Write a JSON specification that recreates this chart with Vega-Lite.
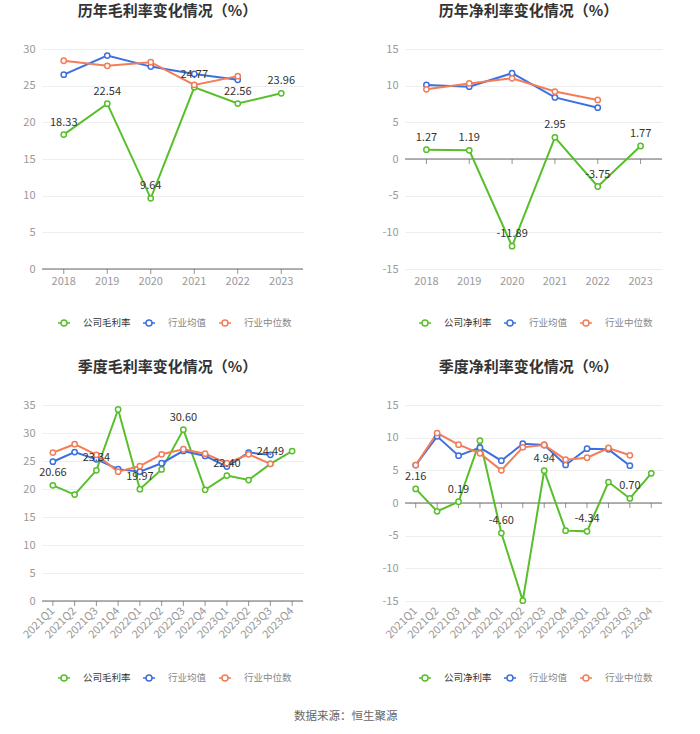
{
  "$schema": "https://vega.github.io/schema/vega-lite/v6.json",
  "background": "white",
  "padding": {"left": 20, "top": 4, "right": 5, "bottom": 5},
  "datasets": {
    "annualGross": [
      {"period": "2018", "series": "公司毛利率", "value": 18.33},
      {"period": "2019", "series": "公司毛利率", "value": 22.54},
      {"period": "2020", "series": "公司毛利率", "value": 9.64},
      {"period": "2021", "series": "公司毛利率", "value": 24.77},
      {"period": "2022", "series": "公司毛利率", "value": 22.56},
      {"period": "2023", "series": "公司毛利率", "value": 23.96},
      {"period": "2018", "series": "行业均值", "value": 26.5},
      {"period": "2019", "series": "行业均值", "value": 29.1},
      {"period": "2020", "series": "行业均值", "value": 27.6},
      {"period": "2021", "series": "行业均值", "value": 26.6},
      {"period": "2022", "series": "行业均值", "value": 25.8},
      {"period": "2018", "series": "行业中位数", "value": 28.4},
      {"period": "2019", "series": "行业中位数", "value": 27.7},
      {"period": "2020", "series": "行业中位数", "value": 28.2},
      {"period": "2021", "series": "行业中位数", "value": 25.1},
      {"period": "2022", "series": "行业中位数", "value": 26.3}
    ],
    "annualNet": [
      {"period": "2018", "series": "公司净利率", "value": 1.27},
      {"period": "2019", "series": "公司净利率", "value": 1.19},
      {"period": "2020", "series": "公司净利率", "value": -11.89},
      {"period": "2021", "series": "公司净利率", "value": 2.95},
      {"period": "2022", "series": "公司净利率", "value": -3.75},
      {"period": "2023", "series": "公司净利率", "value": 1.77},
      {"period": "2018", "series": "行业均值", "value": 10.1},
      {"period": "2019", "series": "行业均值", "value": 9.86},
      {"period": "2020", "series": "行业均值", "value": 11.7},
      {"period": "2021", "series": "行业均值", "value": 8.4},
      {"period": "2022", "series": "行业均值", "value": 7.0},
      {"period": "2018", "series": "行业中位数", "value": 9.5},
      {"period": "2019", "series": "行业中位数", "value": 10.3},
      {"period": "2020", "series": "行业中位数", "value": 11.0},
      {"period": "2021", "series": "行业中位数", "value": 9.2},
      {"period": "2022", "series": "行业中位数", "value": 8.05}
    ],
    "quarterGross": [
      {"period": "2021Q1", "series": "公司毛利率", "value": 20.66},
      {"period": "2021Q2", "series": "公司毛利率", "value": 19.0},
      {"period": "2021Q3", "series": "公司毛利率", "value": 23.34},
      {"period": "2021Q4", "series": "公司毛利率", "value": 34.2},
      {"period": "2022Q1", "series": "公司毛利率", "value": 19.97},
      {"period": "2022Q2", "series": "公司毛利率", "value": 23.5},
      {"period": "2022Q3", "series": "公司毛利率", "value": 30.6},
      {"period": "2022Q4", "series": "公司毛利率", "value": 19.86},
      {"period": "2023Q1", "series": "公司毛利率", "value": 22.4},
      {"period": "2023Q2", "series": "公司毛利率", "value": 21.6},
      {"period": "2023Q3", "series": "公司毛利率", "value": 24.49},
      {"period": "2023Q4", "series": "公司毛利率", "value": 26.77},
      {"period": "2021Q1", "series": "行业均值", "value": 24.87},
      {"period": "2021Q2", "series": "行业均值", "value": 26.6},
      {"period": "2021Q3", "series": "行业均值", "value": 25.3},
      {"period": "2021Q4", "series": "行业均值", "value": 23.55},
      {"period": "2022Q1", "series": "行业均值", "value": 23.1},
      {"period": "2022Q2", "series": "行业均值", "value": 24.6},
      {"period": "2022Q3", "series": "行业均值", "value": 26.8},
      {"period": "2022Q4", "series": "行业均值", "value": 25.9},
      {"period": "2023Q1", "series": "行业均值", "value": 24.0},
      {"period": "2023Q2", "series": "行业均值", "value": 26.5},
      {"period": "2023Q3", "series": "行业均值", "value": 26.1},
      {"period": "2021Q1", "series": "行业中位数", "value": 26.5},
      {"period": "2021Q2", "series": "行业中位数", "value": 28.0},
      {"period": "2021Q3", "series": "行业中位数", "value": 26.1},
      {"period": "2021Q4", "series": "行业中位数", "value": 23.1},
      {"period": "2022Q1", "series": "行业中位数", "value": 24.1},
      {"period": "2022Q2", "series": "行业中位数", "value": 26.2},
      {"period": "2022Q3", "series": "行业中位数", "value": 27.1},
      {"period": "2022Q4", "series": "行业中位数", "value": 26.3},
      {"period": "2023Q1", "series": "行业中位数", "value": 24.6},
      {"period": "2023Q2", "series": "行业中位数", "value": 26.2},
      {"period": "2023Q3", "series": "行业中位数", "value": 24.5}
    ],
    "quarterNet": [
      {"period": "2021Q1", "series": "公司净利率", "value": 2.16},
      {"period": "2021Q2", "series": "公司净利率", "value": -1.28},
      {"period": "2021Q3", "series": "公司净利率", "value": 0.19},
      {"period": "2021Q4", "series": "公司净利率", "value": 9.54},
      {"period": "2022Q1", "series": "公司净利率", "value": -4.6},
      {"period": "2022Q2", "series": "公司净利率", "value": -14.95},
      {"period": "2022Q3", "series": "公司净利率", "value": 4.94},
      {"period": "2022Q4", "series": "公司净利率", "value": -4.23},
      {"period": "2023Q1", "series": "公司净利率", "value": -4.34},
      {"period": "2023Q2", "series": "公司净利率", "value": 3.21},
      {"period": "2023Q3", "series": "公司净利率", "value": 0.7},
      {"period": "2023Q4", "series": "公司净利率", "value": 4.54},
      {"period": "2021Q1", "series": "行业均值", "value": 5.8},
      {"period": "2021Q2", "series": "行业均值", "value": 10.2},
      {"period": "2021Q3", "series": "行业均值", "value": 7.24},
      {"period": "2021Q4", "series": "行业均值", "value": 8.47},
      {"period": "2022Q1", "series": "行业均值", "value": 6.48},
      {"period": "2022Q2", "series": "行业均值", "value": 9.08},
      {"period": "2022Q3", "series": "行业均值", "value": 8.88},
      {"period": "2022Q4", "series": "行业均值", "value": 5.82},
      {"period": "2023Q1", "series": "行业均值", "value": 8.32},
      {"period": "2023Q2", "series": "行业均值", "value": 8.21},
      {"period": "2023Q3", "series": "行业均值", "value": 5.71},
      {"period": "2021Q1", "series": "行业中位数", "value": 5.8},
      {"period": "2021Q2", "series": "行业中位数", "value": 10.7},
      {"period": "2021Q3", "series": "行业中位数", "value": 8.93},
      {"period": "2021Q4", "series": "行业中位数", "value": 7.6},
      {"period": "2022Q1", "series": "行业中位数", "value": 5.0},
      {"period": "2022Q2", "series": "行业中位数", "value": 8.52},
      {"period": "2022Q3", "series": "行业中位数", "value": 8.88},
      {"period": "2022Q4", "series": "行业中位数", "value": 6.63},
      {"period": "2023Q1", "series": "行业中位数", "value": 6.94},
      {"period": "2023Q2", "series": "行业中位数", "value": 8.42},
      {"period": "2023Q3", "series": "行业中位数", "value": 7.3}
    ]
  },
  "title": {"text": "数据来源：恒生聚源", "orient": "bottom", "anchor": "middle", "fontSize": 11.5, "fontWeight": "normal", "color": "#666666", "offset": 27, "dx": 4},
  "columns": 2,
  "spacing": {"row": 136, "column": 102},
  "bounds": "flush",
  "resolve": {"scale": {"color": "independent", "x": "independent", "y": "independent"}, "legend": {"color": "independent"}},
  "concat": [
    {
      "width": 261, "height": 220,
      "title": {"text": "历年毛利率变化情况（%）", "fontSize": 15, "fontWeight": "bold", "color": "#333333", "offset": 24, "anchor": "middle", "frame": "group", "dx": -5},
      "data": {"name": "annualGross"},
      "layer": [
        {"data": {"values": [{}]}, "mark": {"type": "rule", "color": "#666666", "strokeWidth": 1}, "encoding": {"y": {"datum": 0, "scale": {"domain": [0, 30], "nice": false}, "axis": {"values": [0, 5, 10, 15, 20, 25, 30], "title": null}}}},
        {"transform": [{"filter": "datum.series === '公司毛利率'"}], "mark": {"type": "tick", "orient": "vertical", "size": 5, "thickness": 1, "yOffset": 2.5, "color": "#666666"}, "encoding": {"x": {"field": "period", "type": "ordinal", "sort": null, "title": null}, "y": {"datum": 0, "axis": {"values": [0, 5, 10, 15, 20, 25, 30], "title": null}}}},
        {"mark": {"type": "line", "strokeWidth": 2, "point": {"filled": false, "fill": "white", "size": 28, "strokeWidth": 1.5}},
         "encoding": {
           "x": {"field": "period", "type": "ordinal", "sort": null, "title": null},
           "y": {"field": "value", "type": "quantitative", "title": null, "scale": {"domain": [0, 30], "nice": false}, "axis": {"values": [0, 5, 10, 15, 20, 25, 30]}},
           "color": {"field": "series", "type": "nominal", "scale": {"domain": ["公司毛利率", "行业均值", "行业中位数"], "range": ["#58bf2b", "#3d6fe0", "#f27d58"]},
             "legend": {"orient": "none", "legendX": 15, "legendY": 267, "direction": "horizontal", "title": null,
               "encode": {"labels": {"update": {"fill": {"signal": "datum.index === 0 ? '#333333' : '#888888'"}}}}}}
         }},
        {"transform": [{"filter": "datum.series === '公司毛利率'"}], "mark": {"type": "text", "dy": -12, "fontSize": 11, "color": "#333333"},
         "encoding": {"x": {"field": "period", "type": "ordinal", "sort": null, "title": null}, "y": {"field": "value", "type": "quantitative", "title": null, "axis": {"values": [0, 5, 10, 15, 20, 25, 30]}}, "text": {"field": "value", "type": "quantitative", "format": ".2f"}}}
      ]
    },
    {
      "width": 257, "height": 220,
      "title": {"text": "历年净利率变化情况（%）", "fontSize": 15, "fontWeight": "bold", "color": "#333333", "offset": 24, "anchor": "middle", "frame": "group", "dx": -5},
      "data": {"name": "annualNet"},
      "layer": [
        {"data": {"values": [{}]}, "mark": {"type": "rule", "color": "#666666", "strokeWidth": 1}, "encoding": {"y": {"datum": 0, "scale": {"domain": [-15, 15], "nice": false}, "axis": {"values": [-15, -10, -5, 0, 5, 10, 15], "title": null}}}},
        {"transform": [{"filter": "datum.series === '公司净利率'"}], "mark": {"type": "tick", "orient": "vertical", "size": 5, "thickness": 1, "yOffset": 2.5, "color": "#666666"}, "encoding": {"x": {"field": "period", "type": "ordinal", "sort": null, "title": null}, "y": {"datum": 0, "axis": {"values": [-15, -10, -5, 0, 5, 10, 15], "title": null}}}},
        {"mark": {"type": "line", "strokeWidth": 2, "point": {"filled": false, "fill": "white", "size": 28, "strokeWidth": 1.5}},
         "encoding": {
           "x": {"field": "period", "type": "ordinal", "sort": null, "title": null},
           "y": {"field": "value", "type": "quantitative", "title": null, "scale": {"domain": [-15, 15], "nice": false}, "axis": {"values": [-15, -10, -5, 0, 5, 10, 15]}},
           "color": {"field": "series", "type": "nominal", "scale": {"domain": ["公司净利率", "行业均值", "行业中位数"], "range": ["#58bf2b", "#3d6fe0", "#f27d58"]},
             "legend": {"orient": "none", "legendX": 13, "legendY": 267, "direction": "horizontal", "title": null,
               "encode": {"labels": {"update": {"fill": {"signal": "datum.index === 0 ? '#333333' : '#888888'"}}}}}}
         }},
        {"transform": [{"filter": "datum.series === '公司净利率'"}], "mark": {"type": "text", "dy": -12, "fontSize": 11, "color": "#333333"},
         "encoding": {"x": {"field": "period", "type": "ordinal", "sort": null, "title": null}, "y": {"field": "value", "type": "quantitative", "title": null, "axis": {"values": [-15, -10, -5, 0, 5, 10, 15]}}, "text": {"field": "value", "type": "quantitative", "format": ".2f"}}}
      ]
    },
    {
      "width": 261, "height": 196,
      "title": {"text": "季度毛利率变化情况（%）", "fontSize": 15, "fontWeight": "bold", "color": "#333333", "offset": 24, "anchor": "middle", "frame": "group", "dx": -5},
      "data": {"name": "quarterGross"},
      "layer": [
        {"data": {"values": [{}]}, "mark": {"type": "rule", "color": "#666666", "strokeWidth": 1}, "encoding": {"y": {"datum": 0, "scale": {"domain": [0, 35], "nice": false}, "axis": {"values": [0, 5, 10, 15, 20, 25, 30, 35], "title": null}}}},
        {"transform": [{"filter": "datum.series === '公司毛利率'"}], "mark": {"type": "tick", "orient": "vertical", "size": 5, "thickness": 1, "yOffset": 2.5, "color": "#666666"}, "encoding": {"x": {"field": "period", "type": "ordinal", "sort": null, "title": null}, "y": {"datum": 0, "axis": {"values": [0, 5, 10, 15, 20, 25, 30, 35], "title": null}}}},
        {"mark": {"type": "line", "strokeWidth": 2, "point": {"filled": false, "fill": "white", "size": 28, "strokeWidth": 1.5}},
         "encoding": {
           "x": {"field": "period", "type": "ordinal", "sort": null, "title": null, "axis": {"labelAngle": -45, "labelAlign": "right", "labelBaseline": "middle", "labelPadding": 8}},
           "y": {"field": "value", "type": "quantitative", "title": null, "scale": {"domain": [0, 35], "nice": false}, "axis": {"values": [0, 5, 10, 15, 20, 25, 30, 35]}},
           "color": {"field": "series", "type": "nominal", "scale": {"domain": ["公司毛利率", "行业均值", "行业中位数"], "range": ["#58bf2b", "#3d6fe0", "#f27d58"]},
             "legend": {"orient": "none", "legendX": 15, "legendY": 266, "direction": "horizontal", "title": null,
               "encode": {"labels": {"update": {"fill": {"signal": "datum.index === 0 ? '#333333' : '#888888'"}}}}}}
         }},
        {"transform": [{"filter": {"field": "period", "oneOf": ["2021Q1", "2021Q3", "2022Q1", "2022Q3", "2023Q1", "2023Q3"]}}, {"filter": "datum.series === '公司毛利率'"}], "mark": {"type": "text", "dy": -12, "fontSize": 11, "color": "#333333"},
         "encoding": {"x": {"field": "period", "type": "ordinal", "sort": null, "title": null}, "y": {"field": "value", "type": "quantitative", "title": null, "axis": {"values": [0, 5, 10, 15, 20, 25, 30, 35]}}, "text": {"field": "value", "type": "quantitative", "format": ".2f"}}}
      ]
    },
    {
      "width": 257, "height": 196,
      "title": {"text": "季度净利率变化情况（%）", "fontSize": 15, "fontWeight": "bold", "color": "#333333", "offset": 24, "anchor": "middle", "frame": "group", "dx": -5},
      "data": {"name": "quarterNet"},
      "layer": [
        {"data": {"values": [{}]}, "mark": {"type": "rule", "color": "#666666", "strokeWidth": 1}, "encoding": {"y": {"datum": 0, "scale": {"domain": [-15, 15], "nice": false}, "axis": {"values": [-15, -10, -5, 0, 5, 10, 15], "title": null}}}},
        {"transform": [{"filter": "datum.series === '公司净利率'"}], "mark": {"type": "tick", "orient": "vertical", "size": 5, "thickness": 1, "yOffset": 2.5, "color": "#666666"}, "encoding": {"x": {"field": "period", "type": "ordinal", "sort": null, "title": null}, "y": {"datum": 0, "axis": {"values": [-15, -10, -5, 0, 5, 10, 15], "title": null}}}},
        {"mark": {"type": "line", "strokeWidth": 2, "point": {"filled": false, "fill": "white", "size": 28, "strokeWidth": 1.5}},
         "encoding": {
           "x": {"field": "period", "type": "ordinal", "sort": null, "title": null, "axis": {"labelAngle": -45, "labelAlign": "right", "labelBaseline": "middle", "labelPadding": 8}},
           "y": {"field": "value", "type": "quantitative", "title": null, "scale": {"domain": [-15, 15], "nice": false}, "axis": {"values": [-15, -10, -5, 0, 5, 10, 15]}},
           "color": {"field": "series", "type": "nominal", "scale": {"domain": ["公司净利率", "行业均值", "行业中位数"], "range": ["#58bf2b", "#3d6fe0", "#f27d58"]},
             "legend": {"orient": "none", "legendX": 13, "legendY": 266, "direction": "horizontal", "title": null,
               "encode": {"labels": {"update": {"fill": {"signal": "datum.index === 0 ? '#333333' : '#888888'"}}}}}}
         }},
        {"transform": [{"filter": {"field": "period", "oneOf": ["2021Q1", "2021Q3", "2022Q1", "2022Q3", "2023Q1", "2023Q3"]}}, {"filter": "datum.series === '公司净利率'"}], "mark": {"type": "text", "dy": -12, "fontSize": 11, "color": "#333333"},
         "encoding": {"x": {"field": "period", "type": "ordinal", "sort": null, "title": null}, "y": {"field": "value", "type": "quantitative", "title": null, "axis": {"values": [-15, -10, -5, 0, 5, 10, 15]}}, "text": {"field": "value", "type": "quantitative", "format": ".2f"}}}
      ]
    }
  ],
  "config": {
    "font": "Noto Sans CJK SC",
    "locale": {"number": {"decimal": ".", "thousands": ",", "grouping": [3], "currency": ["", ""], "minus": "-"}},
    "view": {"stroke": null},
    "axisX": {"domain": false, "ticks": false, "grid": false, "labelColor": "#999999", "labelFontSize": 11, "labelPadding": 6, "labelAngle": 0, "labelOverlap": false},
    "axisY": {"domain": false, "ticks": false, "grid": true, "gridColor": "#eeeeee", "labelColor": "#999999", "labelFontSize": 11, "labelPadding": 7, "labelOverlap": false},
    "legend": {"symbolType": "M-1,0L-0.5,0M0.5,0L1,0M0.5,0A0.5,0.5,0,1,1,-0.5,0A0.5,0.5,0,1,1,0.5,0", "symbolSize": 144, "symbolStrokeWidth": 1.5, "symbolFillColor": "white", "labelFontSize": 9.5, "labelColor": "#666666", "columnPadding": 9, "labelOffset": 12, "padding": 0}
  }
}
